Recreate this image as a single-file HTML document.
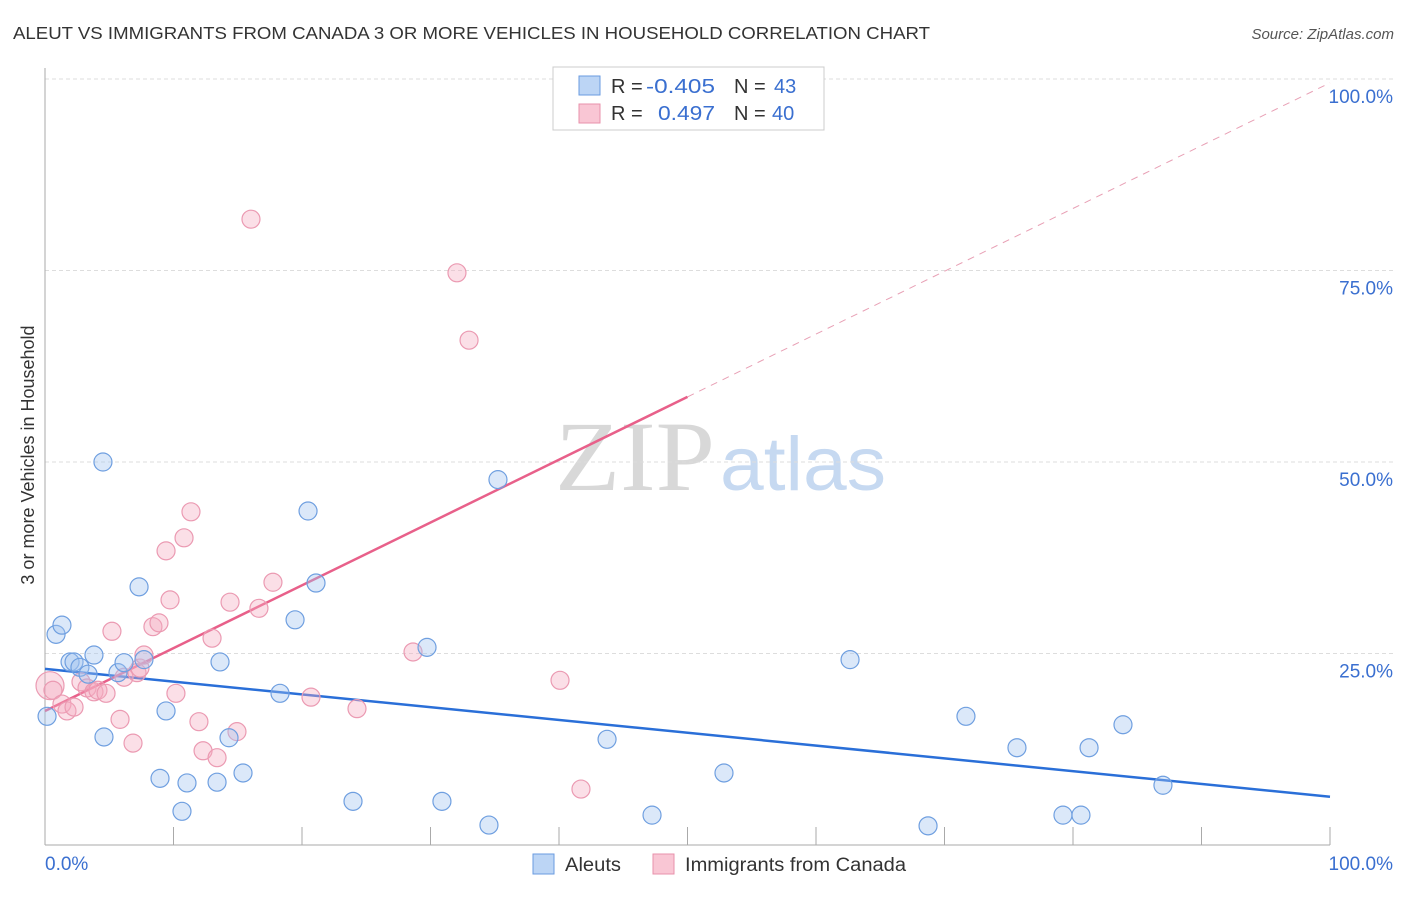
<!DOCTYPE html>
<html><head><meta charset="utf-8"><style>
body{margin:0;background:#fff;font-family:"Liberation Sans",sans-serif;}
</style></head><body>
<svg id="chart" width="1406" height="892" xmlns="http://www.w3.org/2000/svg" font-family="Liberation Sans, sans-serif">
<text x="13" y="39" font-size="17.5" fill="#333" textLength="917" lengthAdjust="spacingAndGlyphs">ALEUT VS IMMIGRANTS FROM CANADA 3 OR MORE VEHICLES IN HOUSEHOLD CORRELATION CHART</text>
<text x="1394" y="39" font-size="15" fill="#555" text-anchor="end" font-style="italic">Source: ZipAtlas.com</text>
<text transform="translate(34,455) rotate(-90)" font-size="18" fill="#333" text-anchor="middle">3 or more Vehicles in Household</text>
<g>
<text x="555" y="490" font-size="100" fill="#d8d8d8" font-family="Liberation Serif, serif" textLength="160" lengthAdjust="spacingAndGlyphs">ZIP</text>
<text x="720" y="490" font-size="76" fill="#c6d9f1" textLength="166" lengthAdjust="spacingAndGlyphs">atlas</text>
</g>
<g id="grid"></g><g id="axes"></g><g id="trend"></g><g id="pts"></g>
<g>
<rect x="553" y="67" width="271" height="63" fill="#fff" stroke="#ccc"/>
<rect x="579" y="76" width="21" height="19" fill="#bcd5f5" stroke="#6a9be0"/>
<rect x="579" y="104" width="21" height="19" fill="#f9c6d4" stroke="#e891ab"/>
<text x="611" y="93" font-size="20" fill="#333">R =</text>
<text x="646" y="93" font-size="20" fill="#3a6fd0" textLength="69" lengthAdjust="spacingAndGlyphs">-0.405</text>
<text x="734" y="93" font-size="20" fill="#333">N =</text>
<text x="774" y="93" font-size="20" fill="#3a6fd0">43</text>
<text x="611" y="120" font-size="20" fill="#333">R =</text>
<text x="658" y="120" font-size="20" fill="#3a6fd0" textLength="57" lengthAdjust="spacingAndGlyphs">0.497</text>
<text x="734" y="120" font-size="20" fill="#333">N =</text>
<text x="772" y="120" font-size="20" fill="#3a6fd0">40</text>
</g>
<g>
<rect x="533" y="854" width="21" height="20" fill="#bcd5f5" stroke="#6a9be0"/>
<text x="565" y="871" font-size="19" fill="#333" textLength="56" lengthAdjust="spacingAndGlyphs">Aleuts</text>
<rect x="653" y="854" width="21" height="20" fill="#f9c6d4" stroke="#e891ab"/>
<text x="685" y="871" font-size="19" fill="#333" textLength="221" lengthAdjust="spacingAndGlyphs">Immigrants from Canada</text>
</g>
</svg>
<script>
const blueX=[0.16,0.86,1.32,1.95,2.26,2.72,3.35,3.81,4.51,4.59,5.68,6.15,7.32,7.70,8.95,9.42,10.66,11.05,13.39,13.62,14.32,15.41,18.29,19.46,20.47,21.09,23.97,29.73,30.89,34.55,35.25,43.74,47.24,52.84,62.65,68.72,71.67,75.64,79.22,80.62,81.25,83.89,87.00];
const blueY=[16.8,27.5,28.7,23.9,23.9,23.2,22.3,24.8,50.0,14.1,22.5,23.8,33.7,24.2,8.7,17.5,4.4,8.1,8.2,23.9,14.0,9.4,19.8,29.4,43.6,34.2,5.7,25.8,5.7,2.6,47.7,13.8,3.9,9.4,24.2,2.5,16.8,12.7,3.9,3.9,12.7,15.7,7.8];
const pinkX=[0.39,0.62,1.32,1.71,2.26,2.80,3.27,3.81,4.12,4.75,5.21,5.84,6.15,6.85,7.16,7.39,7.70,8.40,8.87,9.42,9.73,10.19,10.82,11.36,11.98,12.30,13.00,13.39,14.40,14.94,16.03,16.65,17.74,20.70,24.28,28.64,32.06,33.00,40.08,41.71];
const pinkY=[20.8,20.2,18.4,17.5,18.0,21.3,20.5,20.0,20.2,19.8,27.9,16.4,21.9,13.3,22.5,23.1,24.8,28.5,29.0,38.4,32.0,19.8,40.1,43.5,16.1,12.3,27.0,11.4,31.7,14.8,81.7,30.9,34.3,19.3,17.8,25.2,74.7,65.9,21.5,7.3];
const blueTrend=[23.0,6.3];
const pinkTrend=[17.5,99.5];
const yTicks=[25,50,75,100];
const yTickLabels=["25.0%","50.0%","75.0%","100.0%"];
const xs=v=>45+v*12.85, ys=v=>845-v*7.66;
const NS="http://www.w3.org/2000/svg";
function mk(parent,tag,attrs){const e=document.createElementNS(NS,tag);for(const k in attrs)e.setAttribute(k,attrs[k]);document.getElementById(parent).appendChild(e);return e;}
yTicks.forEach((t,i)=>{
 const l=mk('grid','line',{x1:45,x2:1394,y1:ys(t),y2:ys(t),stroke:'#ddd','stroke-dasharray':'4,3'});
 
 
 const tx=mk('grid','text',{x:1393,y:ys(t)+24,'font-size':19,fill:'#3a6fd0','text-anchor':'end'});
 tx.textContent=yTickLabels[i];
 
 
});
let a=mk('axes','line',{x1:45,x2:45,y1:68,y2:845,stroke:'#aaa'});


a=mk('axes','line',{x1:45,x2:1330,y1:845,y2:845,stroke:'#aaa'});


for(let k=1;k<=10;k++){const t=mk('axes','line',{x1:xs(k*10),x2:xs(k*10),y1:827,y2:845,stroke:'#aaa'});
 
 }
let xl=mk('axes','text',{x:45,y:870,'font-size':19,fill:'#3a6fd0'});xl.textContent='0.0%';


xl=mk('axes','text',{x:1393,y:870,'font-size':19,fill:'#3a6fd0','text-anchor':'end'});xl.textContent='100.0%';


pinkX.forEach((x,i)=>{const c=mk('pts','circle',{cx:xs(x),cy:ys(pinkY[i]),r:i==0?14:9,fill:'rgba(245,170,192,0.38)',stroke:'#eb9ab2','stroke-width':1.2});
 
 });
blueX.forEach((x,i)=>{const c=mk('pts','circle',{cx:xs(x),cy:ys(blueY[i]),r:9,fill:'rgba(160,195,240,0.38)',stroke:'#6f9fe0','stroke-width':1.2});
 
 });
let tl=mk('trend','line',{x1:xs(0),y1:ys(blueTrend[0]),x2:xs(100),y2:ys(blueTrend[1]),stroke:'#2a6fd8','stroke-width':2.5});


const pAt=v=>pinkTrend[0]+(pinkTrend[1]-pinkTrend[0])*v/100;
tl=mk('trend','line',{x1:xs(0),y1:ys(pAt(0)),x2:xs(50),y2:ys(pAt(50)),stroke:'#e8608a','stroke-width':2.5});


tl=mk('trend','line',{x1:xs(50),y1:ys(pAt(50)),x2:xs(100),y2:ys(pAt(100)),stroke:'#e8a0b5','stroke-width':1,'stroke-dasharray':'7,6'});


</script>
</body></html>
